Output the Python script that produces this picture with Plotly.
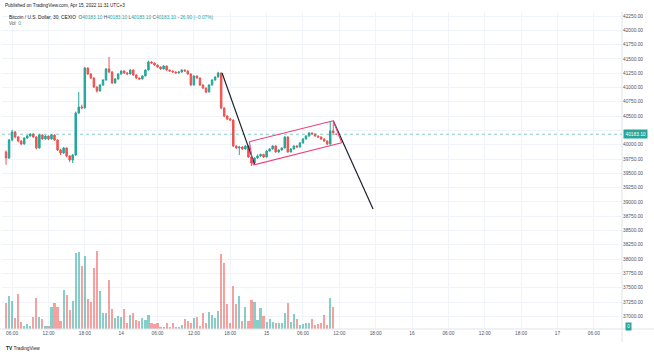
import plotly.graph_objects as go
import pandas as pd

W, H = 654, 354
L, R, T, B = 2, 32, 12, 25

GREEN = "#26a69a"
RED = "#ef5350"
GREEN_V = "rgba(38,166,154,0.55)"
RED_V = "rgba(239,83,80,0.55)"
TXT = "#50535e"
GRID = "#f0f3fa"
FONT = "Liberation Sans, Arial, sans-serif"

start_time = "2022-04-13 05:00"
first_open = 39873
last_quote = 40183.10

closes = [
    39768, 40082, 40222, 40135, 40065, 40013, 40117, 40152, 40187, 40135,
    39943, 40170, 40100, 40152, 40100, 40170, 40082, 39908, 39855, 39943,
    39803, 39733, 39820, 40554, 40659, 40642, 41341, 41236, 41166, 41009,
    40939, 41044, 41131, 41324, 41271, 41079, 41149, 41236, 41289, 41254,
    41236, 41306, 41219, 41166, 41149, 41201, 41306, 41446, 41428, 41393,
    41359, 41324, 41376, 41306, 41289, 41271, 41254, 41271, 41306, 41289,
    41236, 41044, 41201, 41166, 41044, 40991, 40922, 41044, 41131, 41184,
    41254, 40642, 40502, 40450, 40432, 39978, 39943, 39960, 39925, 39978,
    39785, 39680, 39768, 39803, 39830, 39785, 39890, 39925, 39978, 39873,
    39908, 39943, 40135, 39873, 39925, 39978, 39960, 40030, 40100, 40152,
    40205, 40187, 40152, 40135, 40100, 40065, 40013, 40240, 40210, 40183.10,
]
highs = [
    39900, 40100, 40260, 40240, 40150, 40080, 40130, 40170, 40200, 40200,
    40150, 40190, 40185, 40165, 40160, 40185, 40180, 40095, 39930, 39960,
    39950, 39815, 39835, 40580, 40922, 40700, 41360, 41350, 41250, 41180,
    41020, 41060, 41145, 41340, 41533, 41285, 41165, 41250, 41300, 41300,
    41270, 41320, 41315, 41230, 41175, 41215, 41320, 41470, 41460, 41435,
    41400, 41365, 41390, 41385, 41315, 41295, 41280, 41285, 41318, 41315,
    41295, 41245, 41215, 41210, 41175, 41055, 41000, 41055, 41145, 41195,
    41275, 41260, 40655, 40520, 40470, 40440, 39990, 39975, 39975, 39990,
    39990, 39800, 39780, 39830, 39845, 39840, 39905, 39940, 39990, 39990,
    39920, 39955, 40150, 40145, 39940, 39990, 39990, 40045, 40115, 40165,
    40220, 40215, 40195, 40160, 40145, 40110, 40075, 40397, 40380, 40183.10,
]
lows = [
    39650, 39750, 40060, 40110, 40040, 39990, 40000, 40100, 40140, 40120,
    39920, 39930, 40085, 40090, 40080, 40090, 40070, 39890, 39820, 39840,
    39780, 39700, 39680, 39810, 40540, 40620, 40630, 41220, 41150, 40990,
    40910, 40930, 41030, 41120, 41255, 41060, 41070, 41140, 41225, 41240,
    41225, 41230, 41205, 41150, 41130, 41140, 41195, 41300, 41415, 41380,
    41345, 41310, 41315, 41295, 41275, 41260, 41240, 41245, 41260, 41275,
    41225, 41030, 41035, 41150, 41030, 40975, 40900, 40915, 41035, 41120,
    41175, 40620, 40480, 40430, 40415, 39960, 39925, 39820, 39910, 39915,
    39770, 39628, 39660, 39755, 39790, 39770, 39775, 39880, 39915, 39860,
    39860, 39900, 39935, 39860, 39865, 39915, 39945, 39950, 40020, 40090,
    40140, 40175, 40140, 40120, 40085, 40050, 39995, 40000, 40195, 40183.10,
]
volumes = [
    26, 33, 28, 11, 35, 7, 3, 5, 3, 12,
    31, 12, 10, 3, 3, 22, 26, 22, 8, 39,
    34, 19, 28, 76, 77, 63, 73, 30, 27, 61,
    78, 38, 16, 16, 49, 20, 11, 13, 12, 20,
    6, 14, 16, 9, 8, 11, 9, 14, 6, 5,
    6, 2, 2, 6, 2, 6, 2, 2, 4, 10,
    8, 6, 11, 12, 3, 16, 6, 17, 14, 11,
    18, 75, 66, 25, 6, 43, 25, 33, 8, 22,
    8, 29, 27, 9, 21, 13, 7, 10, 7, 6,
    6, 6, 16, 26, 7, 15, 10, 4, 5, 6,
    6, 10, 4, 5, 6, 14, 4, 31, 22, 0,
]
vol_axis_top = 317

price_ticks = [37000 + 250 * k for k in range(22)]
hidden_tick = 40250  # covered by the last-price label
x_tick_times = ["2022-04-13 06:00", "2022-04-13 12:00", "2022-04-13 18:00", "2022-04-14 00:00",
                "2022-04-14 06:00", "2022-04-14 12:00", "2022-04-14 18:00", "2022-04-15 00:00",
                "2022-04-15 06:00", "2022-04-15 12:00", "2022-04-15 18:00", "2022-04-16 00:00",
                "2022-04-16 06:00", "2022-04-16 12:00", "2022-04-16 18:00", "2022-04-17 00:00",
                "2022-04-17 06:00"]
x_tick_text = ["06:00", "12:00", "18:00", "14", "06:00", "12:00", "18:00", "15",
               "06:00", "12:00", "18:00", "16", "06:00", "12:00", "18:00", "17", "06:00"]
x_range = ["2022-04-13 04:20", "2022-04-17 10:39"]
y_range = [36778, 42320]

# drawings
trend1 = [("2022-04-14 16:39", 41254), ("2022-04-14 22:00", 39660)]
trend2 = [("2022-04-15 11:00", 40420), ("2022-04-15 17:34", 38876)]
channel = [("2022-04-14 21:09", 40053), ("2022-04-15 11:00", 40420),
           ("2022-04-15 12:24", 40035), ("2022-04-14 21:48", 39645)]

times = pd.date_range(start_time, periods=len(closes), freq="30min")
opens = [first_open] + closes[:-1]
opens[-1] = last_quote
vol_colors = [GREEN_V if c >= o else RED_V for o, c in zip(opens, closes)]


def pxx(xp):
    return (xp - L) / (W - L - R)


def pyy(yp):
    return (H - B - yp) / (H - T - B)


fig = go.Figure()
fig.add_trace(go.Bar(x=times, y=volumes, marker=dict(color=vol_colors, line=dict(width=0)),
                     width=1.8e6 * 0.72, yaxis="y2", hoverinfo="skip", showlegend=False))
fig.add_trace(go.Candlestick(x=times, open=opens, high=highs, low=lows, close=closes,
                             increasing=dict(line=dict(color=GREEN, width=1), fillcolor=GREEN),
                             decreasing=dict(line=dict(color=RED, width=1), fillcolor=RED),
                             whiskerwidth=0, showlegend=False, hoverinfo="skip"))

shapes = []
shapes.append(dict(type="line", xref="paper", yref="y", x0=0, x1=1, y0=last_quote, y1=last_quote,
                   line=dict(color="rgba(38,166,154,0.7)", width=0.8, dash="dot")))
for seg in (trend1, trend2):
    shapes.append(dict(type="line", xref="x", yref="y", x0=seg[0][0], y0=seg[0][1],
                       x1=seg[1][0], y1=seg[1][1], line=dict(color="#1e222d", width=1.2)))
for k in range(4):
    a, b = channel[k], channel[(k + 1) % 4]
    shapes.append(dict(type="line", xref="x", yref="y", x0=a[0], y0=a[1], x1=b[0], y1=b[1],
                       line=dict(color="#ec407a", width=1.1)))
shapes.append(dict(type="line", xref="paper", yref="paper", x0=1, x1=1, y0=pyy(342), y1=pyy(12),
                   line=dict(color="#e0e3eb", width=1)))
shapes.append(dict(type="line", xref="paper", yref="paper", x0=pxx(0), x1=pxx(654), y0=0, y1=0,
                   line=dict(color="#e0e3eb", width=1)))

legend_txt = (
    f'<span style="color:#131722">Bitcoin / U.S. Dollar, 30, CEXIO</span>&nbsp;&nbsp;'
    f'<span style="color:{TXT}">O</span><span style="color:{GREEN}">40183.10</span> '
    f'<span style="color:{TXT}">H</span><span style="color:{GREEN}">40183.10</span> '
    f'<span style="color:{TXT}">L</span><span style="color:{GREEN}">40183.10</span> '
    f'<span style="color:{TXT}">C</span><span style="color:{GREEN}">40183.10</span> '
    f'<span style="color:{GREEN}">\u221226.90 (\u22120.07%)</span>'
)
annotations = [
    dict(xref="paper", yref="paper", x=pxx(3), y=pyy(6), xanchor="left", yanchor="middle",
         text="Published on TradingView.com, Apr 15, 2022 11:31 UTC+3", showarrow=False,
         font=dict(size=4.6, color="#131722", family=FONT)),
    dict(xref="paper", yref="paper", x=pxx(7), y=pyy(17), xanchor="left", yanchor="middle",
         text=legend_txt, showarrow=False, font=dict(size=4.8, family=FONT)),
    dict(xref="paper", yref="paper", x=pxx(7), y=pyy(24), xanchor="left", yanchor="middle",
         text=f'<span style="color:{TXT}">Vol</span>&nbsp;&nbsp;<span style="color:{GREEN}">0</span>',
         showarrow=False, font=dict(size=4.8, family=FONT)),
    dict(xref="paper", yref="y", x=1, y=last_quote, xanchor="left", yanchor="middle",
         text="40183.10", showarrow=False, bgcolor=GREEN, borderpad=1.5, xshift=1,
         font=dict(size=4.8, color="white", family=FONT)),
    dict(xref="paper", yref="paper", x=1, y=pyy(326), xanchor="left", yanchor="middle",
         text="0", showarrow=False, bgcolor=GREEN, borderpad=1.2, xshift=3,
         font=dict(size=4.6, color="white", family=FONT)),
    dict(xref="paper", yref="paper", x=pxx(4), y=pyy(348), xanchor="left", yanchor="middle",
         text='<b>TV</b> TradingView', showarrow=False,
         font=dict(size=4.8, color="#131722", family=FONT)),
]

fig.update_layout(
    width=W, height=H, margin=dict(l=L, r=R, t=T, b=B),
    paper_bgcolor="white", plot_bgcolor="white",
    font=dict(family=FONT, size=4.8, color=TXT),
    showlegend=False, bargap=0,
    xaxis=dict(type="date", range=x_range, rangeslider=dict(visible=False),
               tickvals=x_tick_times, ticktext=x_tick_text, showgrid=True, gridcolor=GRID,
               gridwidth=1, zeroline=False, showline=False, ticks="",
               tickfont=dict(size=4.8, color=TXT)),
    yaxis=dict(range=y_range, side="right", tickvals=price_ticks,
               ticktext=["" if v == hidden_tick else f"{v:.2f}" for v in price_ticks],
               showgrid=True, gridcolor=GRID,
               zeroline=False, showline=False, ticks="", tickfont=dict(size=4.8, color=TXT)),
    yaxis2=dict(range=[0, vol_axis_top], overlaying="y", visible=False),
    shapes=shapes, annotations=annotations,
)

fig.write_html("out.html")
